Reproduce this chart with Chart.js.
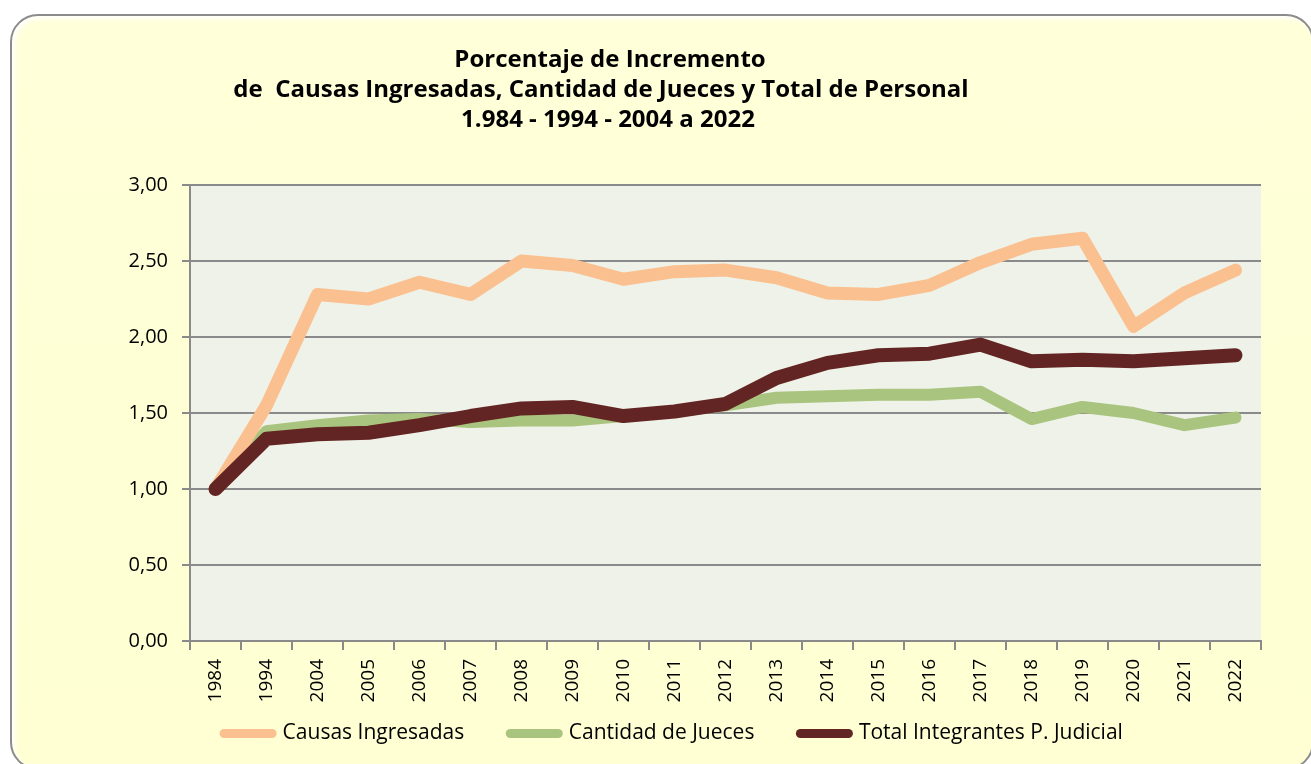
<!DOCTYPE html>
<html>
<head>
<meta charset="utf-8">
<script src="https://cdn.jsdelivr.net/npm/chart.js@4.4.0/dist/chart.umd.min.js"></script>
<style>
html, body { margin: 0; padding: 0; width: 1311px; height: 764px; overflow: hidden; background: #fff; }
#card {
    position: absolute; left: 10px; top: 14px; width: 1300px; height: 752px;
    border: 2px solid #8c8c8c; border-radius: 28px;
    background: linear-gradient(#ffffd9, #ffffd3);
    box-shadow: inset 3px 3px 4px rgba(255,255,255,0.9);
}
#wrap { position: absolute; left: 0; top: 0; width: 1311px; height: 764px; }
</style>
</head>
<body>
<div id="card"></div>
<div id="wrap"><canvas id="chart"></canvas></div>
<script>
const FONT = "'Open Sans', 'Noto Sans', sans-serif";

const years = ['1984', '1994', '2004', '2005', '2006', '2007', '2008', '2009', '2010', '2011',
    '2012', '2013', '2014', '2015', '2016', '2017', '2018', '2019', '2020', '2021', '2022'];

const causasIngresadas = [1.00, 1.55, 2.28, 2.25, 2.36, 2.28, 2.50, 2.47, 2.38, 2.43,
    2.44, 2.39, 2.29, 2.28, 2.34, 2.49, 2.61, 2.65, 2.07, 2.29, 2.44];

const cantidadJueces = [1.00, 1.38, 1.42, 1.45, 1.46, 1.44, 1.45, 1.45, 1.48, 1.51,
    1.55, 1.60, 1.61, 1.62, 1.62, 1.64, 1.46, 1.54, 1.50, 1.42, 1.47];

const totalIntegrantes = [1.00, 1.33, 1.36, 1.37, 1.42, 1.48, 1.53, 1.54, 1.48, 1.51,
    1.56, 1.73, 1.83, 1.88, 1.89, 1.95, 1.84, 1.85, 1.84, 1.86, 1.88];

const titleLines = [
    'Porcentaje de Incremento',
    'de  Causas Ingresadas, Cantidad de Jueces y Total de Personal',
    '1.984 - 1994 - 2004 a 2022'
];
const titleCenters = [610, 601, 608];

// fondo del área de trazado
const plotBackground = {
    id: 'plotBackground',
    beforeDraw(chart) {
        const {ctx, chartArea} = chart;
        ctx.save();
        ctx.fillStyle = '#eff2e8';
        ctx.fillRect(chartArea.left, chartArea.top, chartArea.right - chartArea.left, chartArea.bottom - chartArea.top);
        ctx.restore();
    }
};

// título en tres líneas
const titleBlock = {
    id: 'titleBlock',
    afterDraw(chart) {
        const ctx = chart.ctx;
        ctx.save();
        ctx.font = 'bold 24px ' + FONT;
        ctx.fillStyle = '#000';
        ctx.textAlign = 'center';
        ctx.textBaseline = 'alphabetic';
        titleLines.forEach((t, i) => ctx.fillText(t, titleCenters[i], 67 + i * 30));
        ctx.restore();
    }
};

// la leyenda se sube un poco: queda pegada a las etiquetas del eje X
const legendShift = {
    id: 'legendShift',
    afterInit(chart) {
        const lg = chart.legend;
        if (!lg) return;
        const fit = lg.fit;
        lg.fit = function() {
            fit.call(this);
            this.height = 53;
        };
    },
    afterLayout(chart) {
        const lg = chart.legend;
        if (!lg) return;
        lg.top = 677;
        lg.bottom = chart.height;
        lg.height = lg.bottom - lg.top;
    }
};

const ctx = document.getElementById('chart').getContext('2d');
const chart = new Chart(ctx, {
    type: 'line',
    data: {
        labels: years,
        datasets: [
            {
                label: 'Causas Ingresadas',
                data: causasIngresadas,
                borderColor: '#fac090',
                backgroundColor: '#fac090',
                borderWidth: 13,
                order: 1
            },
            {
                label: 'Cantidad de Jueces',
                data: cantidadJueces,
                borderColor: '#a9c47e',
                backgroundColor: '#a9c47e',
                borderWidth: 12,
                order: 2
            },
            {
                label: 'Total Integrantes P. Judicial',
                data: totalIntegrantes,
                borderColor: '#632523',
                backgroundColor: '#632523',
                borderWidth: 14,
                order: 0
            }
        ]
    },
    options: {
        responsive: true,
        maintainAspectRatio: false,
        animation: false,
        elements: {
            point: { radius: 0, hoverRadius: 0 },
            line: { tension: 0, borderCapStyle: 'round', borderJoinStyle: 'round' }
        },
        layout: { padding: { left: 86, right: 50, top: 185, bottom: 0 } },
        plugins: {
            tooltip: { enabled: false },
            legend: {
                position: 'bottom',
                labels: {
                    usePointStyle: true,
                    pointStyle: 'line',
                    pointStyleWidth: 48,
                    padding: 46,
                    color: '#000',
                    font: { family: FONT, size: 21 },
                    sort: (a, b) => a.datasetIndex - b.datasetIndex,
                    generateLabels(chart) {
                        const items = Chart.defaults.plugins.legend.labels.generateLabels(chart);
                        items.forEach(it => { it.lineWidth = 9; it.lineCap = 'round'; });
                        return items;
                    }
                }
            }
        },
        scales: {
            x: {
                offset: true,
                grid: { offset: true, drawOnChartArea: false, tickLength: 9, color: '#8a8a8a', lineWidth: 2 },
                border: { color: '#8a8a8a', width: 2 },
                ticks: { minRotation: 90, maxRotation: 90, padding: 9, color: '#000', font: { family: FONT, size: 19 } },
                afterFit(scale) { scale.height = 70; }
            },
            y: {
                min: 0,
                max: 3,
                grid: { color: '#8a8a8a', lineWidth: 2, tickLength: 8 },
                border: { color: '#8a8a8a', width: 2 },
                ticks: {
                    stepSize: 0.5,
                    padding: 14,
                    color: '#000',
                    font: { family: FONT, size: 20 },
                    callback: v => v.toFixed(2).replace('.', ',')
                },
                afterFit(scale) { scale.width = 104; }
            }
        }
    },
    plugins: [plotBackground, titleBlock, legendShift]
});
</script>
</body>
</html>
